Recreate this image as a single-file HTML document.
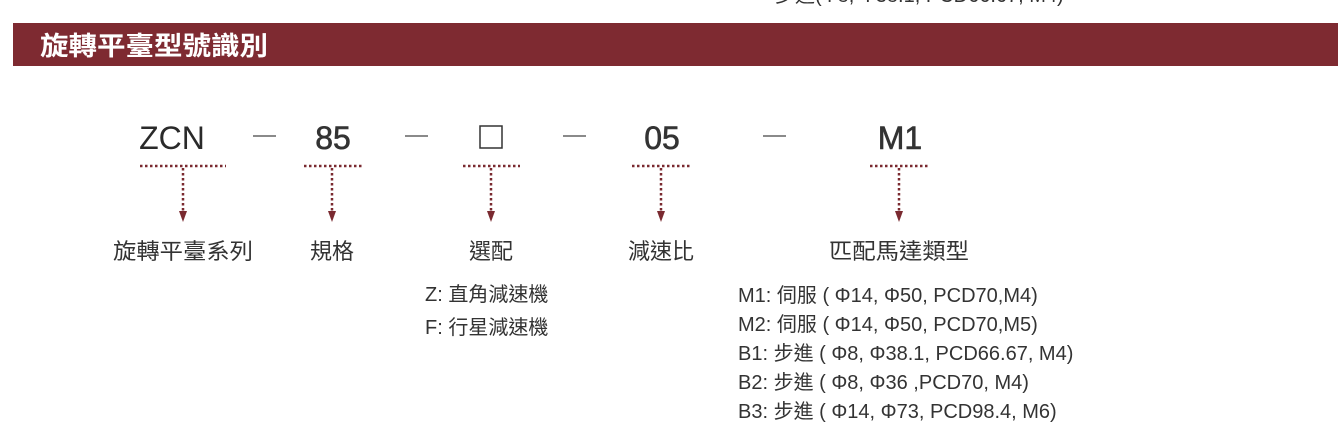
<!DOCTYPE html>
<html><head><meta charset="utf-8"><style>
html,body{margin:0;padding:0;background:#fff;width:1338px;height:435px;overflow:hidden}
svg text{font-family:"Liberation Sans","Noto Sans CJK TC",sans-serif}
</style></head><body>
<svg width="1338" height="435" viewBox="0 0 1338 435" xmlns="http://www.w3.org/2000/svg">
<text x="775" y="2" font-size="20" fill="#333">步進(Φ8, Φ38.1, PCD66.67, M4)</text>
<rect x="13" y="23" width="1325" height="43" fill="#7e2a31"/>
<text x="40" y="55" font-size="26" font-weight="bold" fill="#fff" textLength="228" lengthAdjust="spacingAndGlyphs">旋轉平臺型號識別</text>
<g font-size="32" fill="#2a2a2a" text-anchor="middle">
<text x="172" y="149">ZCN</text>
<text x="333" y="149" fill="#333" stroke="#333" stroke-width="0.6">85</text>
<text x="662" y="149" fill="#333" stroke="#333" stroke-width="0.6">05</text>
<text x="900" y="149" fill="#333" stroke="#333" stroke-width="0.6">M1</text>
</g>
<rect x="480" y="126" width="22" height="22" fill="none" stroke="#333" stroke-width="1.5"/>
<g stroke="#444" stroke-width="1.3">
<line x1="253" y1="136" x2="276" y2="136"/><line x1="405" y1="136" x2="428" y2="136"/>
<line x1="563" y1="136" x2="586" y2="136"/><line x1="763" y1="136" x2="786" y2="136"/>
</g>
<g stroke="#7a2a30" stroke-width="2.5" stroke-dasharray="2.5 2.5" fill="none">
<line x1="140" y1="166" x2="226" y2="166"/><line x1="183" y1="168" x2="183" y2="212"/>
<line x1="304" y1="166" x2="362" y2="166"/><line x1="332" y1="168" x2="332" y2="212"/>
<line x1="463" y1="166" x2="520" y2="166"/><line x1="491" y1="168" x2="491" y2="212"/>
<line x1="632" y1="166" x2="692" y2="166"/><line x1="661" y1="168" x2="661" y2="212"/>
<line x1="870" y1="166" x2="928" y2="166"/><line x1="899" y1="168" x2="899" y2="212"/>
</g>
<g fill="#7a2a30">
<path d="M179,211 L187,211 L183,222 Z"/><path d="M328,211 L336,211 L332,222 Z"/>
<path d="M487,211 L495,211 L491,222 Z"/><path d="M657,211 L665,211 L661,222 Z"/>
<path d="M895,211 L903,211 L899,222 Z"/>
</g>
<g font-size="22" fill="#333" text-anchor="middle">
<text x="183" y="259" textLength="140" lengthAdjust="spacingAndGlyphs">旋轉平臺系列</text><text x="332" y="259">規格</text>
<text x="491" y="259">選配</text><text x="661" y="259">減速比</text><text x="899" y="259" textLength="140" lengthAdjust="spacingAndGlyphs">匹配馬達類型</text>
</g>
<g font-size="20" fill="#333">
<text x="425" y="301">Z: 直角減速機</text><text x="425" y="334">F: 行星減速機</text>
<text x="738" y="302">M1: 伺服 ( Φ14, Φ50, PCD70,M4)</text>
<text x="738" y="331">M2: 伺服 ( Φ14, Φ50, PCD70,M5)</text>
<text x="738" y="360">B1: 步進 ( Φ8, Φ38.1, PCD66.67, M4)</text>
<text x="738" y="389">B2: 步進 ( Φ8, Φ36 ,PCD70, M4)</text>
<text x="738" y="418">B3: 步進 ( Φ14, Φ73, PCD98.4, M6)</text>
</g>
</svg>
</body></html>
